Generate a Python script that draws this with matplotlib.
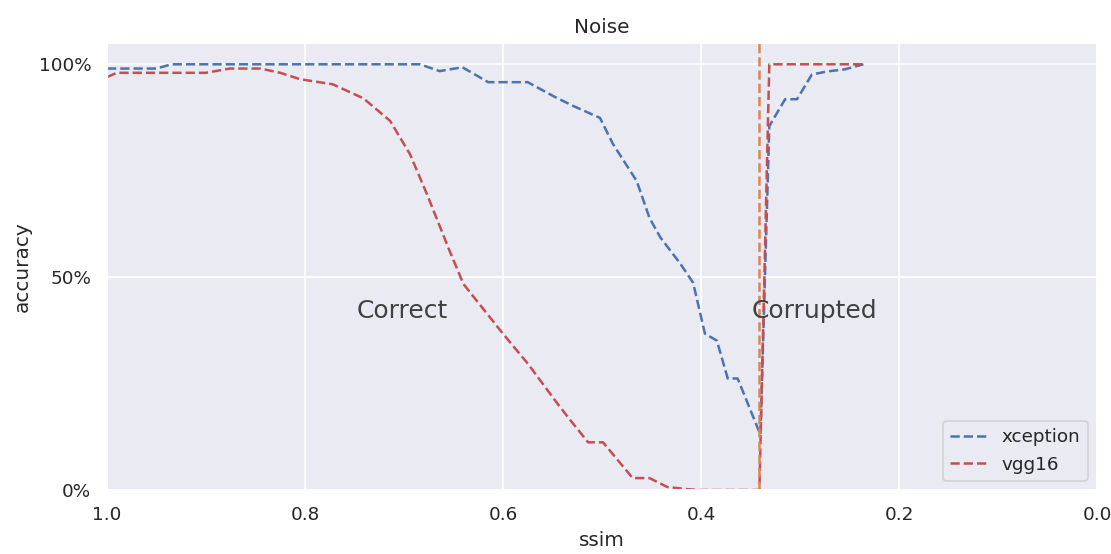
import matplotlib
matplotlib.use("Agg")
import matplotlib.pyplot as plt
import seaborn as sns
from matplotlib.ticker import PercentFormatter

# SSIM vs. accuracy for the noise perturbation
xception_ssim = [1.0, 0.95, 0.935, 0.70, 0.684, 0.664, 0.641, 0.615, 0.575, 0.549,
                 0.529, 0.502, 0.489, 0.465, 0.452, 0.441, 0.421, 0.408, 0.396, 0.384,
                 0.373, 0.363, 0.340, 0.331, 0.315, 0.303, 0.288, 0.273, 0.255, 0.236]
xception_acc = [0.99, 0.99, 1.0, 1.0, 1.0, 0.984, 0.993, 0.958, 0.958, 0.925,
                0.902, 0.874, 0.813, 0.726, 0.639, 0.593, 0.532, 0.487, 0.367, 0.351,
                0.262, 0.262, 0.13, 0.855, 0.918, 0.918, 0.976, 0.983, 0.988, 1.0]

vgg16_ssim = [1.0, 0.99, 0.90, 0.876, 0.845, 0.825, 0.805, 0.772, 0.741, 0.714,
              0.694, 0.677, 0.654, 0.640, 0.60, 0.575, 0.545, 0.532, 0.514, 0.499,
              0.469, 0.452, 0.434, 0.414, 0.40, 0.341, 0.331, 0.236]
vgg16_acc = [0.97, 0.98, 0.98, 0.99, 0.99, 0.98, 0.965, 0.953, 0.92, 0.867,
             0.789, 0.696, 0.562, 0.484, 0.367, 0.297, 0.203, 0.164, 0.112, 0.112,
             0.028, 0.028, 0.007, 0.002, 0.0, 0.0, 1.0, 1.0]

threshold = 0.341
region_labels = ["Correct", "Corrupted"]
region_x = [0.702, 0.285]
region_y = 0.42

sns.set_theme(style="darkgrid", context="notebook")

fig = plt.figure(figsize=(1111 / 120, 554 / 120), dpi=120)
ax = fig.add_axes([107 / 1111, 1 - 490 / 554, 990 / 1111, 447 / 554])

ax.plot(xception_ssim, xception_acc, "--", color="C0", label="xception")
ax.plot(vgg16_ssim, vgg16_acc, "--", color="C3", label="vgg16")
ax.axvline(threshold, linestyle="--", color="C1")

for label, x in zip(region_labels, region_x):
    ax.text(x, region_y, label, fontsize=15, ha="center", va="center", color="0.25")

ax.set_xlim(1.0, 0.0)
ax.set_ylim(0, 1.05)
ax.set_xticks([1.0, 0.8, 0.6, 0.4, 0.2, 0.0])
ax.set_yticks([0, 0.5, 1.0])
ax.yaxis.set_major_formatter(PercentFormatter(1.0, decimals=0))

ax.set_title("Noise")
ax.set_xlabel("ssim")
ax.set_ylabel("accuracy")
ax.legend(loc="lower right")

fig.savefig("out.png", dpi=120)
